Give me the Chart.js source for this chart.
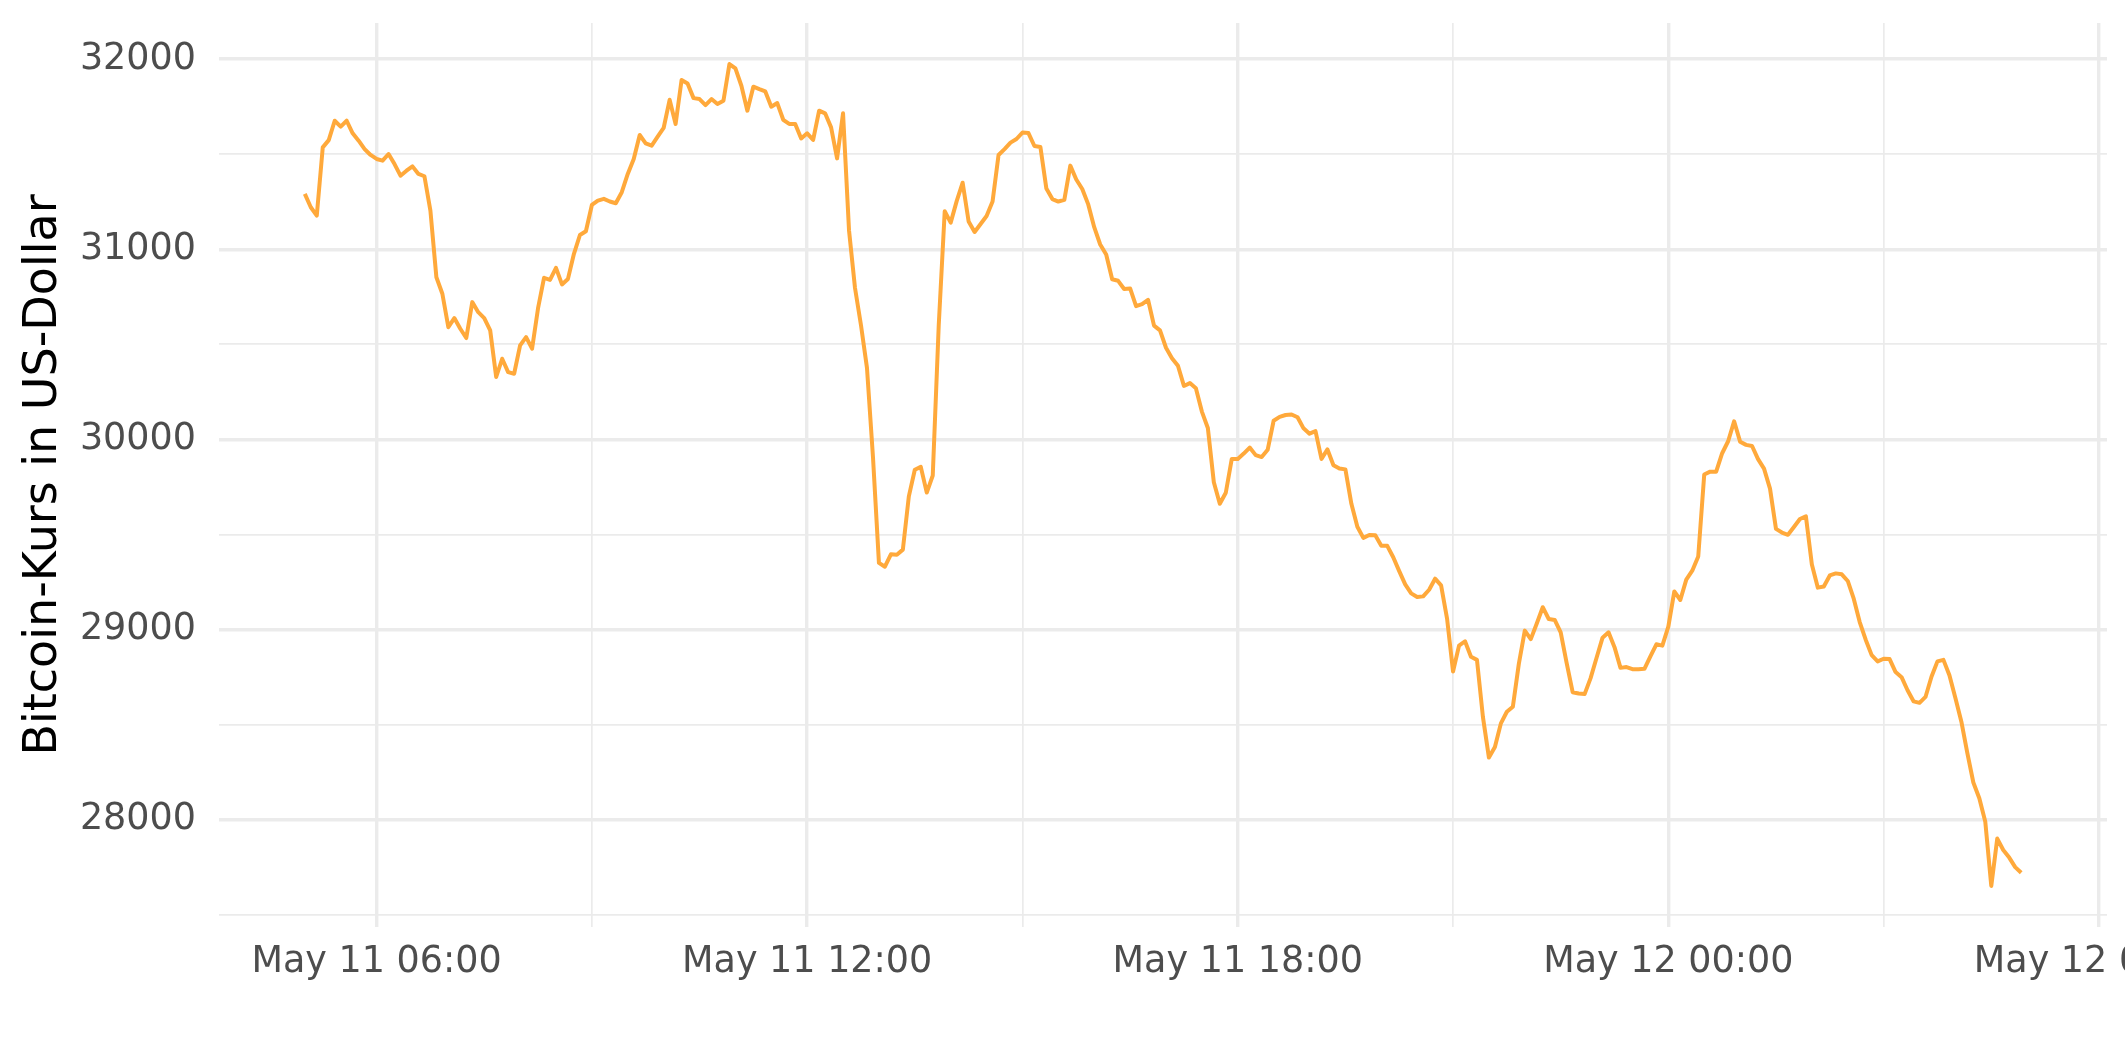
<!DOCTYPE html>
<html>
<head>
<meta charset="utf-8">
<title>Bitcoin-Kurs</title>
<script src="https://cdn.jsdelivr.net/npm/chart.js@4/dist/chart.umd.min.js"></script>
<style>
  html, body { margin: 0; padding: 0; background: #fff; overflow: hidden; }
  #wrap { width: 2125px; height: 1062px; overflow: hidden; }
  canvas { display: block; }
</style>
</head>
<body>
<div id="wrap"><canvas id="chart" width="2240" height="1062"></canvas></div>
<script>
// ── Data ────────────────────────────────────────────────────────────────────
// 5-minute closes, starting May 11 05:00 (hours counted from May 11 00:00)
const startHour    = 5;
const stepMinutes  = 5;
const prices = [
  31291, 31221, 31177, 31536, 31574, 31676, 31645, 31676, 31610, 31571, 31527, 31496, // 05h
  31475, 31466, 31501, 31448, 31387, 31413, 31436, 31396, 31384, 31203, 30853, 30766, // 06h
  30590, 30638, 30582, 30533, 30722, 30669, 30638, 30573, 30328, 30424, 30354, 30345, // 07h
  30494, 30538, 30477, 30690, 30850, 30839, 30902, 30815, 30844, 30976, 31075, 31095, // 08h
  31233, 31256, 31265, 31251, 31242, 31300, 31396, 31475, 31601, 31557, 31545, 31592, // 09h
  31638, 31786, 31659, 31890, 31872, 31795, 31790, 31758, 31790, 31764, 31781, 31974, // 10h
  31951, 31860, 31729, 31855, 31842, 31830, 31750, 31769, 31681, 31659, 31659, 31583, // 11h
  31610, 31575, 31729, 31715, 31641, 31478, 31715, 31099, 30796, 30600, 30376, 29909, // 12h
  29350, 29330, 29395, 29393, 29420, 29700, 29840, 29855, 29720, 29810, 30600, 31200, // 13h
  31140, 31253, 31350, 31146, 31091, 31133, 31175, 31251, 31496, 31527, 31561, 31580, // 14h
  31614, 31611, 31543, 31538, 31319, 31264, 31251, 31260, 31440, 31367, 31317, 31236, // 15h
  31116, 31025, 30972, 30842, 30834, 30791, 30794, 30701, 30711, 30734, 30598, 30573, // 16h
  30482, 30427, 30387, 30281, 30296, 30269, 30146, 30060, 29774, 29661, 29719, 29897, // 17h
  29897, 29925, 29957, 29917, 29907, 29945, 30098, 30118, 30128, 30131, 30116, 30058, // 18h
  30030, 30043, 29897, 29947, 29864, 29847, 29842, 29661, 29540, 29482, 29497, 29495, // 19h
  29440, 29440, 29380, 29307, 29237, 29190, 29171, 29174, 29209, 29267, 29232, 29057, // 20h
  28779, 28915, 28938, 28856, 28840, 28539, 28326, 28382, 28506, 28567, 28593, 28819, // 21h
  28994, 28949, 29031, 29117, 29055, 29050, 28985, 28823, 28670, 28663, 28660, 28744, // 22h
  28851, 28957, 28985, 28907, 28798, 28802, 28791, 28791, 28793, 28858, 28922, 28915, // 23h
  29015, 29200, 29155, 29262, 29309, 29384, 29815, 29830, 29830, 29927, 29990, 30095, // 00h
  29988, 29971, 29965, 29896, 29846, 29741, 29529, 29510, 29498, 29539, 29581, 29595, // 01h
  29342, 29220, 29226, 29284, 29295, 29290, 29255, 29162, 29039, 28946, 28865, 28832, // 02h
  28846, 28844, 28776, 28749, 28680, 28622, 28614, 28645, 28751, 28832, 28840, 28759, // 03h
  28640, 28515, 28350, 28195, 28112, 27988, 27651, 27900, 27840, 27800, 27750, 27720, // 04h
];

// labelled (major) and unlabelled (minor) grid positions
const yTickValues  = [28000, 29000, 30000, 31000, 32000];
const yMinorValues = [27500, 28500, 29500, 30500, 31500];
const xTickHours   = [6, 12, 18, 24, 30];
const xMinorHours  = [9, 15, 21, 27];
const xTickLabels  = ['May 11 06:00', 'May 11 12:00', 'May 11 18:00', 'May 12 00:00', 'May 12 06:00'];

const yTitle = 'Bitcoin-Kurs in US-Dollar';

// ── Chart ───────────────────────────────────────────────────────────────────
const points = prices.map((p, i) => ({ x: startHour + i * stepMinutes / 60, y: p }));

// ggplot-style 5% expansion of the data range
const xSpan = points[points.length - 1].x - points[0].x;
const xMin  = points[0].x - xSpan * 0.05;
const xMax  = points[points.length - 1].x + xSpan * 0.05;
const yLo   = Math.min(...prices), yHi = Math.max(...prices);
const yMin  = yLo - (yHi - yLo) * 0.05;
const yMax  = yHi + (yHi - yLo) * 0.05;

const GRID = '#EBEBEB';
const FONT = 'DejaVu Sans';

function setTicks(values) {
  return s => { s.ticks = [...values].sort((a, b) => a - b).map(v => ({ value: v })); };
}
// keep tick labels from pushing the plot area around
function noOverhang(s) {
  s.paddingTop = 0; s.paddingBottom = 0; s.paddingLeft = 0; s.paddingRight = 0;
}

new Chart(document.getElementById('chart'), {
  type: 'line',
  data: {
    datasets: [{
      data: points,
      borderColor: '#FFA93B',
      borderWidth: 4,
      pointRadius: 0,
      tension: 0,
      borderJoinStyle: 'round',
      fill: false,
    }],
  },
  options: {
    responsive: false,
    animation: false,
    layout: { padding: { top: 23, right: 133, bottom: 0, left: 0 } },
    plugins: { legend: { display: false }, tooltip: { enabled: false } },
    scales: {
      x: {
        type: 'linear',
        min: xMin, max: xMax,
        border: { display: false },
        grid: {
          color: GRID,
          drawTicks: false,
          lineWidth: c => (xTickHours.includes(c.tick.value) ? 3.4 : 1.7),
        },
        afterBuildTicks: setTicks([...xTickHours, ...xMinorHours]),
        ticks: {
          autoSkip: false,
          maxRotation: 0,
          padding: 14,
          color: '#4D4D4D',
          font: { family: FONT, size: 36.5 },
          callback: v => {
            const k = xTickHours.indexOf(v);
            return k >= 0 ? xTickLabels[k] : '';
          },
        },
        afterFit: s => { s.height = 135; noOverhang(s); },
      },
      y: {
        min: yMin, max: yMax,
        border: { display: false },
        grid: {
          color: GRID,
          drawTicks: false,
          lineWidth: c => (yTickValues.includes(c.tick.value) ? 3.4 : 1.7),
        },
        afterBuildTicks: setTicks([...yTickValues, ...yMinorValues]),
        ticks: {
          autoSkip: false,
          padding: 23,
          color: '#4D4D4D',
          font: { family: FONT, size: 36.5 },
          callback: v => (yTickValues.includes(v) ? String(v) : ''),
        },
        title: {
          display: true,
          text: yTitle,
          color: '#000',
          font: { family: FONT, size: 46, weight: 'normal' },
          padding: { top: 16, bottom: 0 },
        },
        afterFit: s => { s.width = 219; noOverhang(s); },
      },
    },
  },
});
</script>
</body>
</html>
